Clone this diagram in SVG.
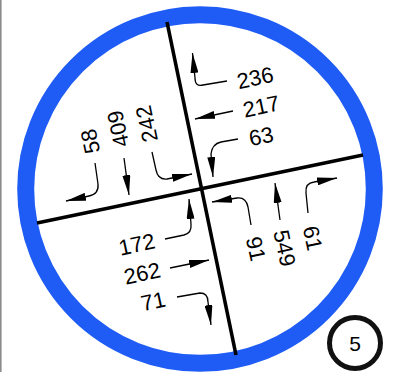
<svg xmlns="http://www.w3.org/2000/svg" width="396" height="372" viewBox="0 0 396 372">
<defs>
<marker id="ah" viewBox="0 0 20 8" refX="20" refY="4" markerWidth="20" markerHeight="8" markerUnits="userSpaceOnUse" orient="auto"><path d="M0,0 L20,4 L0,8 z" fill="#000"/></marker>
<style>
.lbl{font-family:"Liberation Sans",Arial,sans-serif;font-size:22px;fill:#000;text-anchor:middle}
.ldr{fill:none;stroke:#000;stroke-width:1.3;marker-end:url(#ah)}
.axis{stroke:#000;stroke-width:3.6;stroke-linecap:butt}
</style>
</defs>
<rect x="0" y="0" width="396" height="372" fill="#fff"/>
<rect x="0" y="0" width="1.6" height="372" fill="#8c8c8c"/>
<g id="ring"><circle cx="200" cy="189" r="174.3" fill="none" stroke="#1f5cf5" stroke-width="17"/></g>
<g id="roads">
<line class="axis" x1="167" y1="22" x2="236" y2="355"/>
<line class="axis" x1="37" y1="223" x2="363" y2="155"/>
</g>
<g id="connectors">
<path class="ldr" d="M227,81 L203,85 Q195,87 195,78 L192.5,53"/>
<path class="ldr" d="M233,111 L195,119"/>
<path class="ldr" d="M238,139 L221,142 Q212,144 211,154 L213,177"/>
<path class="ldr" d="M95,163 L98,184 Q99,194 89,196 L66,201"/>
<path class="ldr" d="M124,158 L129,195"/>
<path class="ldr" d="M152,152 L156,170 Q158,180 167,179 L192,174"/>
<path class="ldr" d="M165,239 L184,235 Q192,233 191,224 L189,199"/>
<path class="ldr" d="M170,268 L209,260"/>
<path class="ldr" d="M177,297 L200,293 Q208,293 208,302 L211,325"/>
<path class="ldr" d="M251,225 L248,207 Q246,197 237,198 L212,202"/>
<path class="ldr" d="M280,220 L275,183"/>
<path class="ldr" d="M308,213 L306,193 Q305,183 314,182 L337,178"/>
</g>
<g id="n236"><text class="lbl" transform="translate(255,77.5) rotate(-12)" y="8">236</text></g>
<g id="n217"><text class="lbl" transform="translate(261,106) rotate(-12)" y="8">217</text></g>
<g id="n63"><text class="lbl" transform="translate(261,136) rotate(-12)" y="8">63</text></g>
<g id="n58"><text class="lbl" transform="translate(90,141.5) rotate(-102)" y="8">58</text></g>
<g id="n409"><text class="lbl" transform="translate(117.7,129) rotate(-102)" y="8">409</text></g>
<g id="n242"><text class="lbl" transform="translate(146.3,124) rotate(-102)" y="8">242</text></g>
<g id="n172"><text class="lbl" transform="translate(136.7,244) rotate(-12)" y="8">172</text></g>
<g id="n262"><text class="lbl" transform="translate(142,273) rotate(-12)" y="8">262</text></g>
<g id="n71"><text class="lbl" transform="translate(153,301) rotate(-12)" y="8">71</text></g>
<g id="n91"><text class="lbl" transform="translate(256.2,248.7) rotate(78)" y="8">91</text></g>
<g id="n549"><text class="lbl" transform="translate(285,248) rotate(78)" y="8">549</text></g>
<g id="n61"><text class="lbl" transform="translate(313,238) rotate(78)" y="8">61</text></g>
<g id="badge">
<circle cx="355" cy="343" r="25.5" fill="#fff" stroke="#111" stroke-width="5"/>
<text class="lbl" x="355" y="351" style="font-size:21px">5</text>
</g>
</svg>
